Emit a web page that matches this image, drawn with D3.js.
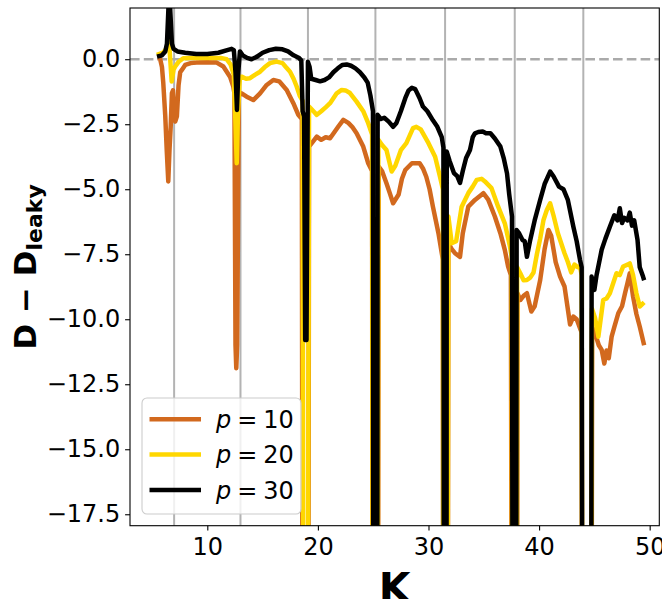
<!DOCTYPE html>
<html><head><meta charset="utf-8">
<script src="https://cdn.jsdelivr.net/npm/d3@7"></script>
<style>body{margin:0;background:#fff}svg{display:block}</style>
</head><body>
<svg id="c" width="662" height="599"></svg>
<script>
// ---------- data ----------
const OFF = -30; // values that fall below the visible range
const xTicks = [10, 20, 30, 40, 50];
const yTicks = [0, -2.5, -5, -7.5, -10, -12.5, -15, -17.5];
const vLines = [7, 13, 19.1, 25.2, 31.5, 37.8, 44];
const labels = ["p = 10", "p = 20", "p = 30"];
const colors = ["#d2691e", "#ffd700", "#000000"];

const p10 = [[5.5,0.05],[5.72,0.04],[5.9,-0.3],[6.02,-0.92],[6.2,-2.2],[6.33,-3.49],[6.47,-4.7],[6.58,-3.5],[6.69,-2.59],[6.8,-1.3],[6.9,-1.2],[7.0,-2.0],[7.1,-2.4],[7.25,-2.2],[7.4,-1.0],[7.55,-0.5],[7.7,-0.41],[8.0,-0.22],[8.5,-0.15],[9.04,-0.13],[10.0,-0.12],[10.85,-0.13],[11.45,-0.28],[12.05,-0.67],[12.35,-1.05],[12.45,-1.3],[12.55,-11.0],[12.62,-11.88],[12.7,-11.0],[12.85,-1.4],[13.1,-1.31],[13.56,-1.44],[14.16,-1.57],[14.77,-1.31],[15.37,-0.99],[15.97,-0.8],[16.5,-0.85],[17.18,-1.18],[17.78,-1.69],[18.23,-2.14],[18.55,-2.3],[18.62,OFF],[19.12,OFF],[19.2,-3.36],[19.5,-3.2],[19.9,-2.98],[20.3,-3.1],[20.7,-3.0],[21.1,-3.04],[21.5,-2.8],[21.85,-2.59],[22.3,-2.33],[22.75,-2.45],[23.1,-2.6],[23.5,-2.85],[24.1,-3.36],[24.55,-4.0],[24.9,-4.3],[24.95,OFF],[25.42,OFF],[25.5,-4.13],[25.8,-4.3],[26.2,-4.77],[26.5,-5.15],[26.8,-5.54],[27.3,-5.2],[27.6,-4.6],[27.9,-4.26],[28.5,-4.0],[29.2,-4.0],[29.5,-4.2],[29.8,-4.52],[30.1,-5.0],[30.4,-5.67],[30.9,-6.69],[31.2,-7.46],[31.3,-7.7],[31.33,OFF],[31.72,OFF],[31.8,-7.08],[32.1,-7.3],[32.4,-7.46],[32.85,-7.6],[33.1,-6.69],[33.6,-5.67],[34.2,-5.41],[34.96,-5.15],[35.4,-5.4],[36.0,-6.05],[36.5,-6.69],[36.9,-7.33],[37.2,-7.97],[37.45,-8.3],[37.55,OFF],[38.0,OFF],[38.05,-9.0],[38.3,-9.26],[38.6,-9.1],[38.9,-9.0],[39.3,-9.7],[39.6,-9.5],[40.1,-8.49],[40.5,-7.3],[40.85,-6.57],[41.1,-6.8],[41.5,-7.8],[41.9,-8.36],[42.3,-8.74],[42.8,-10.2],[43.1,-9.9],[43.4,-10.0],[43.7,-10.35],[43.85,-10.5],[43.9,OFF],[44.72,OFF],[44.8,-10.3],[45.06,-10.54],[45.4,-11.0],[45.66,-11.18],[45.9,-11.7],[46.1,-11.2],[46.3,-11.5],[46.56,-10.67],[46.8,-10.3],[47.16,-9.77],[47.5,-9.5],[47.77,-9.0],[48.0,-8.6],[48.2,-8.23],[48.5,-9.13],[48.8,-9.8],[49.1,-10.28],[49.5,-11.0]];

const p20 = [[5.43,0.17],[6.0,0.25],[6.3,0.4],[6.5,0.7],[6.6,0.3],[6.78,-0.86],[6.95,-0.4],[7.1,-0.28],[7.4,-0.1],[7.83,0.04],[8.5,0.05],[9.5,0.05],[10.5,0.05],[11.2,0.05],[11.75,0.0],[12.1,-0.2],[12.4,-0.6],[12.55,-2.5],[12.66,-4.0],[12.78,-2.0],[12.95,-0.67],[13.1,-0.67],[13.5,-0.75],[13.86,-0.73],[14.3,-0.6],[14.77,-0.48],[15.2,-0.3],[15.67,-0.15],[16.27,-0.09],[16.8,-0.15],[17.1,-0.3],[17.48,-0.48],[17.8,-0.75],[18.08,-1.05],[18.35,-1.4],[18.62,-1.6],[18.7,OFF],[19.05,OFF],[19.2,-1.82],[19.6,-2.0],[19.9,-2.14],[20.3,-2.0],[20.7,-1.85],[21.1,-1.69],[21.4,-1.5],[21.7,-1.31],[22.15,-1.18],[22.5,-1.2],[22.9,-1.3],[23.5,-1.63],[24.1,-2.0],[24.55,-2.46],[24.9,-2.9],[24.98,OFF],[25.38,OFF],[25.47,-3.1],[25.8,-3.3],[26.2,-3.49],[26.67,-4.32],[27.0,-4.1],[27.5,-3.5],[28.0,-3.23],[28.6,-2.65],[28.9,-2.6],[29.3,-2.7],[30.0,-3.23],[30.6,-3.75],[31.04,-4.52],[31.3,-5.0],[31.36,OFF],[31.7,OFF],[31.8,-6.05],[32.1,-7.08],[32.5,-7.0],[33.0,-5.67],[33.6,-5.15],[34.0,-4.9],[34.36,-4.64],[34.8,-4.6],[35.1,-4.7],[35.7,-4.96],[36.3,-5.67],[36.9,-6.31],[37.37,-7.2],[37.52,-7.6],[37.58,OFF],[37.96,OFF],[38.02,-8.0],[38.3,-8.23],[38.6,-8.5],[38.9,-8.49],[39.2,-8.4],[39.5,-8.2],[39.8,-7.5],[40.1,-6.9],[40.4,-6.18],[40.7,-5.8],[41.0,-5.54],[41.3,-6.0],[41.7,-6.69],[42.3,-7.46],[42.6,-7.8],[42.9,-8.2],[43.2,-7.9],[43.5,-8.0],[43.7,-7.97],[43.85,-8.3],[43.92,OFF],[44.68,OFF],[44.78,-9.6],[45.06,-9.95],[45.36,-10.67],[45.8,-9.26],[46.1,-9.2],[46.4,-9.0],[47.0,-8.23],[47.3,-8.3],[47.6,-7.97],[48.0,-7.9],[48.2,-7.85],[48.5,-8.3],[48.8,-9.0],[49.1,-9.51],[49.5,-9.35]];

const p30 = [[5.45,0.1],[5.9,0.15],[6.2,0.3],[6.35,0.6],[6.47,1.8],[6.56,2.8],[6.66,1.8],[6.8,0.6],[6.95,0.4],[7.3,0.3],[8.0,0.25],[9.0,0.2],[10.0,0.2],[11.0,0.25],[11.8,0.35],[12.2,0.4],[12.4,0.35],[12.55,-0.5],[12.68,-1.95],[12.8,-0.5],[12.95,0.3],[13.2,0.15],[13.6,0.05],[14.0,0.0],[14.5,0.1],[15.0,0.25],[15.6,0.35],[16.2,0.4],[16.8,0.38],[17.3,0.3],[17.8,0.15],[18.3,0.05],[18.5,-0.05],[18.62,-2.0],[18.75,-2.2],[18.85,-10.8],[18.97,-10.8],[19.1,-0.1],[19.25,-0.3],[19.4,-0.75],[19.8,-0.8],[20.2,-0.85],[20.6,-0.8],[21.0,-0.7],[21.4,-0.5],[21.8,-0.35],[22.2,-0.22],[22.6,-0.2],[23.0,-0.25],[23.4,-0.35],[23.8,-0.5],[24.2,-0.7],[24.5,-0.9],[24.75,-1.4],[24.98,-2.0],[25.02,OFF],[25.36,OFF],[25.4,-2.14],[25.7,-2.3],[26.0,-2.25],[26.4,-2.4],[26.8,-2.6],[27.1,-2.45],[27.5,-2.0],[27.9,-1.5],[28.2,-1.2],[28.5,-1.1],[28.8,-1.15],[29.2,-1.5],[29.5,-1.82],[29.9,-2.0],[30.4,-2.35],[30.8,-2.6],[31.2,-3.0],[31.35,-3.4],[31.4,OFF],[31.62,OFF],[31.65,-3.55],[31.9,-3.9],[32.3,-4.38],[32.6,-4.5],[32.85,-4.76],[33.1,-4.3],[33.4,-3.8],[33.75,-3.49],[34.0,-3.0],[34.2,-2.85],[34.5,-2.8],[34.9,-2.78],[35.2,-2.85],[35.6,-2.85],[36.0,-3.05],[36.5,-3.36],[36.8,-3.8],[37.1,-4.39],[37.3,-5.2],[37.55,-6.05],[37.62,OFF],[37.92,OFF],[37.97,-6.57],[38.2,-6.7],[38.5,-6.95],[38.7,-7.0],[38.9,-7.6],[39.2,-6.95],[39.6,-6.2],[40.1,-5.41],[40.5,-4.8],[41.0,-4.32],[41.3,-4.5],[41.8,-4.9],[42.2,-5.0],[42.6,-5.41],[43.1,-6.44],[43.4,-7.0],[43.7,-7.72],[43.85,-8.0],[43.93,OFF],[44.7,OFF],[44.75,-8.36],[45.0,-8.87],[45.2,-8.3],[45.66,-7.33],[46.0,-6.9],[46.4,-6.44],[46.8,-6.0],[47.1,-6.2],[47.3,-5.73],[47.5,-6.3],[47.7,-6.1],[48.0,-6.2],[48.2,-5.9],[48.4,-6.4],[48.6,-6.2],[48.9,-6.95],[49.1,-8.0],[49.4,-8.36],[49.5,-8.5]];

const series = [p10, p20, p30];

// ---------- layout ----------
const L = 130, R = 659.3, T = 8, B = 525.7;
const svg = d3.select("#c");
const x = d3.scaleLinear().domain([3.01, 50.87]).range([L, R]);
const y = d3.scaleLinear().domain([1.97, -17.94]).range([T, B]);
const FONT = "DejaVu Sans, sans-serif";

svg.append("defs").append("clipPath").attr("id", "clip")
  .append("rect").attr("x", L).attr("y", T).attr("width", R - L).attr("height", B - T);

const plot = svg.append("g").attr("clip-path", "url(#clip)");

// vertical reference lines
plot.selectAll("line.v").data(vLines).enter().append("line")
  .attr("x1", d => x(d)).attr("x2", d => x(d)).attr("y1", T).attr("y2", B)
  .attr("stroke", "#b3b3b3").attr("stroke-width", 2);

// zero dashed line
plot.append("line").attr("x1", L).attr("x2", R).attr("y1", y(0)).attr("y2", y(0))
  .attr("stroke", "#aaaaaa").attr("stroke-width", 2.6).attr("stroke-dasharray", "9.6,4.2");

const line = d3.line().x(d => x(d[0])).y(d => y(d[1]));
series.forEach((s, i) => {
  plot.append("path").datum(s).attr("d", line).attr("fill", "none")
    .attr("stroke", colors[i]).attr("stroke-width", 4.5)
    .attr("stroke-linejoin", "round").attr("stroke-linecap", "butt");
});

// axes
const fmt = d => (d < 0 ? "\u2212" : "") + Math.abs(d).toFixed(1);
const gx = svg.append("g").attr("transform", `translate(0,${B})`)
  .call(d3.axisBottom(x).tickValues(xTicks).tickSize(4.9).tickPadding(7.5).tickFormat(d3.format("d")));
const gy = svg.append("g").attr("transform", `translate(${L},0)`)
  .call(d3.axisLeft(y).tickValues(yTicks).tickSize(4.9).tickPadding(4.9).tickFormat(fmt));
[gx, gy].forEach(g => {
  g.select(".domain").remove();
  g.selectAll(".tick line").attr("stroke", "#000").attr("stroke-width", 1.1);
  g.selectAll(".tick text").attr("font-family", FONT).attr("font-size", 24).attr("fill", "#000");
});

// frame
svg.append("rect").attr("x", L).attr("y", T).attr("width", R - L).attr("height", B - T)
  .attr("fill", "none").attr("stroke", "#000").attr("stroke-width", 1.1);

// axis labels
svg.append("text").attr("x", (L + R) / 2).attr("y", 602)
  .attr("text-anchor", "middle").attr("font-family", FONT).attr("font-weight", "bold")
  .attr("font-size", 41).text("K");

const yl = svg.append("text").attr("transform", `translate(36,${(T + B) / 2}) rotate(-90)`)
  .attr("text-anchor", "middle").attr("font-family", FONT).attr("font-weight", "bold")
  .attr("font-size", 31);
yl.append("tspan").text("D \u2212 D");
yl.append("tspan").attr("font-size", 22).attr("dy", 6).text("leaky");

// legend
const lg = svg.append("g");
lg.append("rect").attr("x", 142).attr("y", 398).attr("width", 159).attr("height", 116)
  .attr("rx", 5).attr("fill", "#fff").attr("fill-opacity", 0.8)
  .attr("stroke", "#cccccc").attr("stroke-width", 1.1);
const rowY = [419.3, 454.5, 490];
labels.forEach((lab, i) => {
  lg.append("line").attr("x1", 149.5).attr("x2", 201).attr("y1", rowY[i]).attr("y2", rowY[i])
    .attr("stroke", colors[i]).attr("stroke-width", 4.5);
  const t = lg.append("text").attr("x", 216).attr("y", rowY[i] + 8.5)
    .attr("font-family", FONT).attr("font-size", 24).attr("fill", "#000");
  const parts = lab.split(" = ");
  t.append("tspan").attr("font-style", "italic").text(parts[0]);
  t.append("tspan").attr("dx", 6).text("=");
  t.append("tspan").attr("dx", 6).text(parts[1]);
});
</script>
</body></html>
